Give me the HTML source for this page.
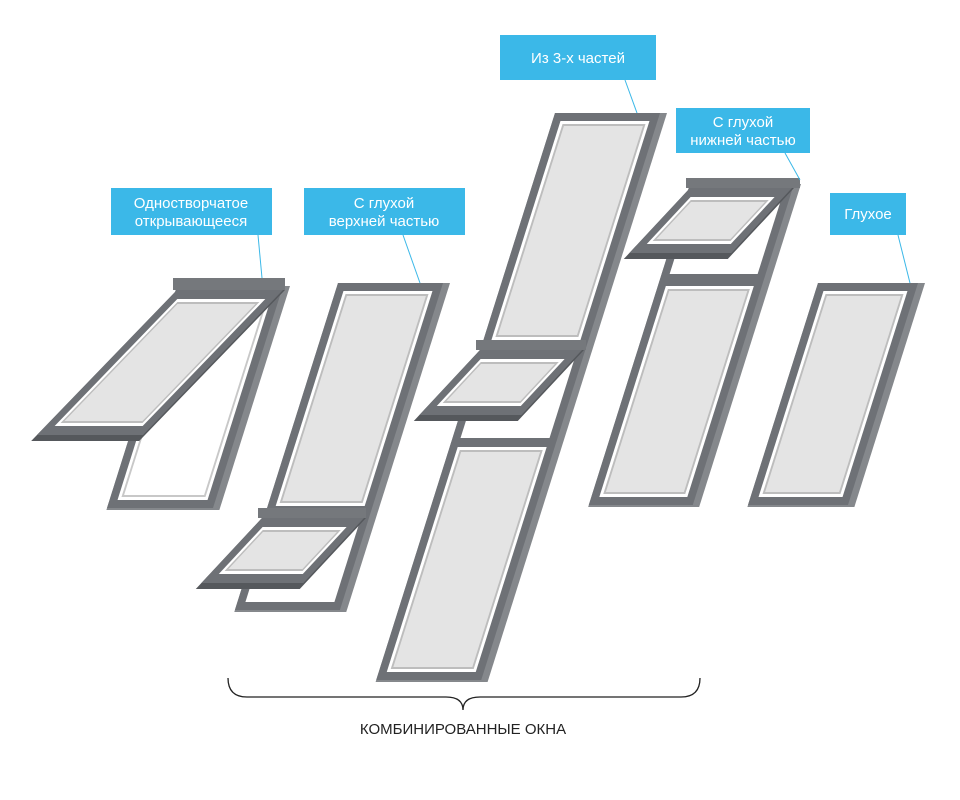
<!DOCTYPE html>
<html><head><meta charset="utf-8"><style>
html,body{margin:0;padding:0;background:#fff;width:960px;height:800px;overflow:hidden}
svg{display:block}
text{font-family:"Liberation Sans","DejaVu Sans",sans-serif}
</style></head><body>
<svg width="960" height="800" viewBox="0 0 960 800" xmlns="http://www.w3.org/2000/svg">

<!-- ===== P5: Одностворчатое ===== -->
<g transform="translate(177,286) skewX(-17.5)">
  <rect width="113" height="224" fill="#85888c"/>
  <rect width="106" height="222" fill="#6e7176"/>
  <rect x="8" y="8" width="90" height="206" fill="#fff"/>
  <rect x="11" y="11" width="84" height="200" fill="#c8c8c8"/>
  <rect x="13" y="13" width="80" height="196" fill="#fff"/>
</g>
<rect x="173" y="278" width="112" height="12" fill="#75787c"/>
<g transform="translate(177,290) skewX(-44)">
  <rect y="0" width="108" height="151" fill="#55585c"/>
  <rect width="106" height="145" fill="#6e7176"/>
  <rect x="9" y="9" width="88" height="127" fill="#fff"/>
  <rect x="12" y="12" width="82" height="121" fill="#bdbdbd"/>
  <rect x="14" y="14" width="78" height="117" fill="#e4e4e4"/>
</g>

<!-- ===== P4: С глухой верхней частью ===== -->
<g transform="translate(338,283) skewX(-17.5)">
  <rect width="112" height="329" fill="#85888c"/>
  <rect width="105" height="327" fill="#6e7176"/>
  <rect x="8" y="8" width="89" height="215" fill="#fff"/>
  <rect x="11" y="11" width="83" height="209" fill="#bdbdbd"/>
  <rect x="13" y="13" width="79" height="205" fill="#e4e4e4"/>
  <rect x="8" y="235" width="89" height="84" fill="#fff"/>
</g>
<rect x="258" y="508" width="108" height="10" fill="#75787c"/>
<g transform="translate(262,518) skewX(-43)">
  <rect width="104" height="71" fill="#55585c"/>
  <rect width="102" height="65" fill="#6e7176"/>
  <rect x="9" y="9" width="84" height="47" fill="#fff"/>
  <rect x="12" y="12" width="78" height="41" fill="#bdbdbd"/>
  <rect x="14" y="14" width="74" height="37" fill="#e4e4e4"/>
</g>

<!-- ===== P3: Из 3-х частей ===== -->
<g transform="translate(555,113) skewX(-17.5)">
  <rect width="112" height="569" fill="#85888c"/>
  <rect width="105" height="567" fill="#6e7176"/>
  <rect x="8" y="8" width="89" height="219" fill="#fff"/>
  <rect x="11" y="11" width="83" height="213" fill="#bdbdbd"/>
  <rect x="13" y="13" width="79" height="209" fill="#e4e4e4"/>
  <rect x="8" y="240" width="89" height="85" fill="#fff"/>
  <rect x="8" y="334" width="89" height="225" fill="#fff"/>
  <rect x="11" y="337" width="83" height="219" fill="#bdbdbd"/>
  <rect x="13" y="339" width="79" height="215" fill="#e4e4e4"/>
</g>
<rect x="476" y="340" width="110" height="10" fill="#75787c"/>
<g transform="translate(480,350) skewX(-43)">
  <rect width="104" height="71" fill="#55585c"/>
  <rect width="102" height="65" fill="#6e7176"/>
  <rect x="9" y="9" width="84" height="47" fill="#fff"/>
  <rect x="12" y="12" width="78" height="41" fill="#bdbdbd"/>
  <rect x="14" y="14" width="74" height="37" fill="#e4e4e4"/>
</g>

<!-- ===== P2: С глухой нижней частью ===== -->
<g transform="translate(690,184) skewX(-17.5)">
  <rect width="111" height="323" fill="#85888c"/>
  <rect width="104" height="321" fill="#6e7176"/>
  <rect x="8" y="8" width="88" height="82" fill="#fff"/>
  <rect x="8" y="102" width="88" height="211" fill="#fff"/>
  <rect x="11" y="105" width="82" height="205" fill="#bdbdbd"/>
  <rect x="13" y="107" width="78" height="201" fill="#e4e4e4"/>
</g>
<rect x="686" y="178" width="114" height="10" fill="#75787c"/>
<g transform="translate(690,188) skewX(-43)">
  <rect width="104" height="71" fill="#55585c"/>
  <rect width="102" height="65" fill="#6e7176"/>
  <rect x="9" y="9" width="84" height="47" fill="#fff"/>
  <rect x="12" y="12" width="78" height="41" fill="#bdbdbd"/>
  <rect x="14" y="14" width="74" height="37" fill="#e4e4e4"/>
</g>

<!-- ===== P1: Глухое ===== -->
<g transform="translate(818,283) skewX(-17.5)">
  <rect width="107" height="224" fill="#85888c"/>
  <rect width="100" height="222" fill="#6e7176"/>
  <rect x="8" y="8" width="84" height="206" fill="#fff"/>
  <rect x="11" y="11" width="78" height="200" fill="#bdbdbd"/>
  <rect x="13" y="13" width="74" height="196" fill="#e4e4e4"/>
</g>

<!-- ===== callouts ===== -->
<g stroke="#3bb8e8" stroke-width="1">
  <line x1="258" y1="235" x2="262" y2="278"/>
  <line x1="403" y1="235" x2="420" y2="283"/>
  <line x1="625" y1="80" x2="637" y2="113"/>
  <line x1="785" y1="153" x2="800" y2="180"/>
  <line x1="898" y1="235" x2="910" y2="283"/>
</g>
<g fill="#3bb8e8">
  <rect x="111" y="188" width="161" height="47"/>
  <rect x="304" y="188" width="161" height="47"/>
  <rect x="500" y="35" width="156" height="45"/>
  <rect x="676" y="108" width="134" height="45"/>
  <rect x="830" y="193" width="76" height="42"/>
</g>
<g fill="#fff" font-size="15" text-anchor="middle">
  <text x="191" y="208">Одностворчатое</text>
  <text x="191" y="226">открывающееся</text>
  <text x="384" y="208">С глухой</text>
  <text x="384" y="226">верхней частью</text>
  <text x="578" y="63">Из 3-х частей</text>
  <text x="743" y="127">С глухой</text>
  <text x="743" y="145">нижней частью</text>
  <text x="868" y="219">Глухое</text>
</g>

<!-- ===== brace ===== -->
<path d="M228,678 Q228,697 247,697 L446,697 Q463,697 463,710 Q463,697 480,697 L681,697 Q700,697 700,678" fill="none" stroke="#222" stroke-width="1.3"/>
<text x="463" y="734" font-size="15" text-anchor="middle" fill="#222">КОМБИНИРОВАННЫЕ ОКНА</text>
</svg>
</body></html>
